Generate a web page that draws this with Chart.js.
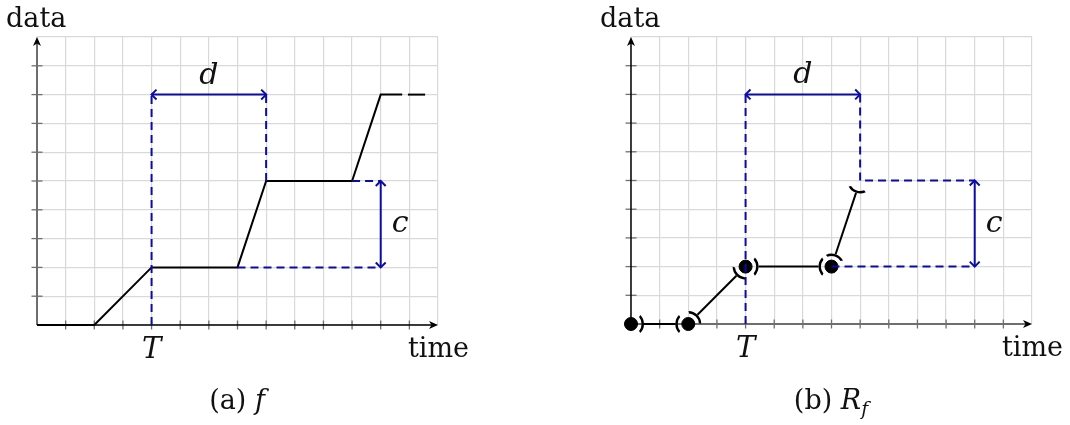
<!DOCTYPE html>
<html>
<head>
<meta charset="utf-8">
<script src="https://cdn.jsdelivr.net/npm/chart.js@4/dist/chart.umd.min.js"></script>
<style>
  html, body { margin: 0; padding: 0; background: #fff; }
  #wrap { position: relative; width: 1070px; height: 425px; overflow: hidden; }
  #wrap canvas { position: absolute; top: 0; }
  #cvA { left: 0; }
  #cvB { left: 535px; }
  .cap { position: absolute; top: 385px; line-height: 30px; font-family: "DejaVu Serif", serif;
         font-size: 27px; color: #111; transform: translateX(-50%); white-space: nowrap; }
  .cap i { font-style: italic; }
  .cap sub { font-size: 70%; line-height: 0; vertical-align: -6px; }
</style>
</head>
<body>
<div id="wrap">
  <canvas id="cvA" width="535" height="425"></canvas>
  <canvas id="cvB" width="535" height="425"></canvas>
  <div class="cap" style="left:237px">(a) <i>f</i></div>
  <div class="cap" style="left:831px">(b) <i>R</i><sub><i>f</i></sub></div>
</div>
<script>
// Axis ranges
const timeMin = 0, timeMax = 14;
const dataMin = 0, dataMax = 10;

// Named tick label on the time axis
const tickLabelTimes = [4];
const tickLabelTexts = ['T'];

// f : piecewise linear function
const fTime = [0, 2, 4, 7, 8, 11, 12, 12.75];
const fData = [0, 0, 2, 2, 5, 5, 8, 8];
const fTailTime = [12.95, 13.55];
const fTailData = [8, 8];

// R_f : breakpoints (closed ones get a dot)
const rTime = [0, 2, 4, 7, 8];
const rData = [0, 0, 2, 2, 5];
const rClosed = [true, true, true, true, false];

// dashed guides (each entry is one polyline)
const fGuideTime = [[4, 4], [8, 8], [7, 12], [11, 12]];
const fGuideData = [[0, 8], [5, 8], [2, 2], [5, 5]];
const rGuideTime = [[4, 4], [8, 8, 12], [7, 12]];
const rGuideData = [[0, 8], [8, 5, 5], [2, 2]];

// measured spans: d (delay) and c (change)
const dArrowTime = [4, 8], dArrowData = [8, 8];
const cArrowTime = [12, 12], cArrowData = [5, 2];

const BLUE = '#0b0ba6';
const SERIF = '"DejaVu Serif", serif';

function pts(xs, ys) { return xs.map((x, i) => ({ x: x, y: ys[i] })); }

function lineDs(xs, ys, extra) {
  return Object.assign({
    data: pts(xs, ys), borderColor: '#000', borderWidth: 2, pointRadius: 0,
    fill: false, tension: 0, clip: false
  }, extra || {});
}

function guideSets(gx, gy) {
  return gx.map((xs, i) => lineDs(xs, gy[i], { borderColor: BLUE, borderDash: [8, 5], borderCapStyle: 'butt' }));
}

function spanSet(xs, ys, tag) {
  return lineDs(xs, ys, { borderColor: BLUE, label: tag });
}

// filled "stealth" arrow tip for the axes
function stealth(ctx, x, y, ang) {
  const L = 9, W = 4, N = 6.5;
  const c = Math.cos(ang), s = Math.sin(ang);
  ctx.beginPath();
  ctx.moveTo(x, y);
  ctx.lineTo(x - L * c + W * s, y - L * s - W * c);
  ctx.lineTo(x - N * c, y - N * s);
  ctx.lineTo(x - L * c - W * s, y - L * s + W * c);
  ctx.closePath();
  ctx.fill();
}

// open chevron tip for the span arrows
function chevron(ctx, x, y, ang) {
  const L = 7, a = Math.PI / 4;
  ctx.beginPath();
  ctx.moveTo(x - L * Math.cos(ang - a), y - L * Math.sin(ang - a));
  ctx.lineTo(x, y);
  ctx.lineTo(x - L * Math.cos(ang + a), y - L * Math.sin(ang + a));
  ctx.stroke();
}

// bracket mark (parenthesis shaped) around an interval end
function bracket(ctx, x, y, R, ang) {
  const A = 44 * Math.PI / 180;
  ctx.beginPath();
  ctx.arc(x, y, R, ang - A, ang + A);
  ctx.arc(x, y, R - 2.4, ang + A * 0.92, ang - A * 0.92, true);
  ctx.closePath();
  ctx.fill();
}

function makeDecor(opt) {
  return {
    id: 'decor',
    beforeDatasetsDraw(chart) {
      const ctx = chart.ctx, xs = chart.scales.x, ys = chart.scales.y;
      const x0 = xs.getPixelForValue(timeMin), x1 = xs.getPixelForValue(timeMax);
      const y0 = ys.getPixelForValue(dataMin), y1 = ys.getPixelForValue(dataMax);
      ctx.save();
      // small tick marks crossing the axes
      ctx.strokeStyle = '#707070';
      ctx.lineWidth = 1.3;
      for (let t = timeMin + 1; t < timeMax; t++) {
        const px = xs.getPixelForValue(t);
        ctx.beginPath(); ctx.moveTo(px, y0 - 4.5); ctx.lineTo(px, y0 + 4.5); ctx.stroke();
      }
      for (let v = dataMin + 1; v < dataMax; v++) {
        const py = ys.getPixelForValue(v);
        ctx.beginPath(); ctx.moveTo(x0 - 5.5, py); ctx.lineTo(x0 + 5.5, py); ctx.stroke();
      }
      // axis lines
      ctx.lineWidth = opt.xAxisWidth;
      ctx.strokeStyle = opt.xAxisColor;
      ctx.beginPath(); ctx.moveTo(x0, y0); ctx.lineTo(x1 - 5, y0); ctx.stroke();
      ctx.lineWidth = opt.yAxisWidth;
      ctx.strokeStyle = opt.yAxisColor;
      ctx.beginPath(); ctx.moveTo(x0, y0); ctx.lineTo(x0, y1 + 5); ctx.stroke();
      ctx.fillStyle = '#000';
      stealth(ctx, x1, y0, 0);
      stealth(ctx, x0, y1, -Math.PI / 2);
      ctx.restore();
    },
    afterDatasetsDraw(chart) {
      const ctx = chart.ctx, xs = chart.scales.x, ys = chart.scales.y;
      const x0 = xs.getPixelForValue(timeMin), x1 = xs.getPixelForValue(timeMax);
      const y0 = ys.getPixelForValue(dataMin), y1 = ys.getPixelForValue(dataMax);
      ctx.save();

      // arrow tips on the d and c spans
      ctx.strokeStyle = BLUE;
      ctx.lineWidth = 2;
      chart.data.datasets.forEach((ds, i) => {
        if (ds.label !== 'd' && ds.label !== 'c') return;
        const p = chart.getDatasetMeta(i).data;
        const a = p[0], b = p[p.length - 1];
        const ang = Math.atan2(b.y - a.y, b.x - a.x);
        chevron(ctx, b.x, b.y, ang);
        chevron(ctx, a.x, a.y, ang + Math.PI);
      });

      // open-interval segments with bracket ends
      chart.data.datasets.forEach((ds, i) => {
        if (ds.label !== 'rf') return;
        const p = chart.getDatasetMeta(i).data;
        const R = 13;
        ctx.strokeStyle = '#000';
        ctx.fillStyle = '#000';
        ctx.lineWidth = 2;
        for (let k = 0; k < p.length - 1; k++) {
          const a = p[k], b = p[k + 1];
          const ang = Math.atan2(b.y - a.y, b.x - a.x);
          const c = Math.cos(ang), s = Math.sin(ang);
          ctx.beginPath();
          ctx.moveTo(a.x + R * c, a.y + R * s);
          ctx.lineTo(b.x - R * c, b.y - R * s);
          ctx.stroke();
          bracket(ctx, a.x, a.y, R, ang);
          bracket(ctx, b.x, b.y, R, ang + Math.PI);
        }
      });

      // text
      ctx.fillStyle = '#111';
      ctx.textBaseline = 'alphabetic';
      ctx.font = '27px ' + SERIF;
      ctx.textAlign = 'left';
      ctx.fillText('data', x0 - 31, y1 - 10);
      ctx.fillText('time', x1 - 30, y0 + 32);
      ctx.font = 'italic 29px ' + SERIF;
      ctx.textAlign = 'center';
      tickLabelTimes.forEach((t, i) => ctx.fillText(tickLabelTexts[i], xs.getPixelForValue(t), y0 + 33));
      ctx.font = 'italic 30px ' + SERIF;
      ctx.fillText('d', xs.getPixelForValue((dArrowTime[0] + dArrowTime[1]) / 2), ys.getPixelForValue(dArrowData[0]) - 11);
      ctx.textAlign = 'left';
      ctx.fillText('c', xs.getPixelForValue(cArrowTime[0]) + 11, ys.getPixelForValue((cArrowData[0] + cArrowData[1]) / 2) + 8);
      ctx.restore();
    }
  };
}

function baseOptions(pad) {
  return {
    responsive: false,
    animation: false,
    devicePixelRatio: 1,
    events: [],
    layout: { padding: pad },
    plugins: { legend: { display: false }, tooltip: { enabled: false }, title: { display: false } },
    scales: {
      x: {
        type: 'linear', min: timeMin, max: timeMax,
        ticks: { display: false, stepSize: 1 },
        grid: { color: '#d9d9d9', lineWidth: 1.2, drawTicks: false },
        border: { display: false }
      },
      y: {
        type: 'linear', min: dataMin, max: dataMax,
        ticks: { display: false, stepSize: 1 },
        grid: { color: '#d9d9d9', lineWidth: 1.2, drawTicks: false },
        border: { display: false }
      }
    }
  };
}

// (a) f
new Chart(document.getElementById('cvA'), {
  type: 'line',
  data: {
    datasets: [
      ...guideSets(fGuideTime, fGuideData),
      spanSet(dArrowTime, dArrowData, 'd'),
      spanSet(cArrowTime, cArrowData, 'c'),
      lineDs(fTime, fData),
      lineDs(fTailTime, fTailData)
    ]
  },
  options: baseOptions({ left: 37, top: 37, right: 97, bottom: 100 }),
  plugins: [makeDecor({ xAxisColor: '#000', xAxisWidth: 1.5, yAxisColor: '#6e6e6e', yAxisWidth: 2 })]
});

// (b) R_f
new Chart(document.getElementById('cvB'), {
  type: 'line',
  data: {
    datasets: [
      ...guideSets(rGuideTime, rGuideData),
      spanSet(dArrowTime, dArrowData, 'd'),
      spanSet(cArrowTime, cArrowData, 'c'),
      lineDs(rTime, rData, {
        label: 'rf', showLine: false,
        pointRadius: rClosed.map(v => v ? 6.5 : 0),
        pointBackgroundColor: '#000', pointBorderColor: '#000', pointBorderWidth: 1
      })
    ]
  },
  options: baseOptions({ left: 96, top: 37, right: 38, bottom: 101 }),
  plugins: [makeDecor({ xAxisColor: '#6e6e6e', xAxisWidth: 2, yAxisColor: '#000', yAxisWidth: 1.5 })]
});
</script>
</body>
</html>
